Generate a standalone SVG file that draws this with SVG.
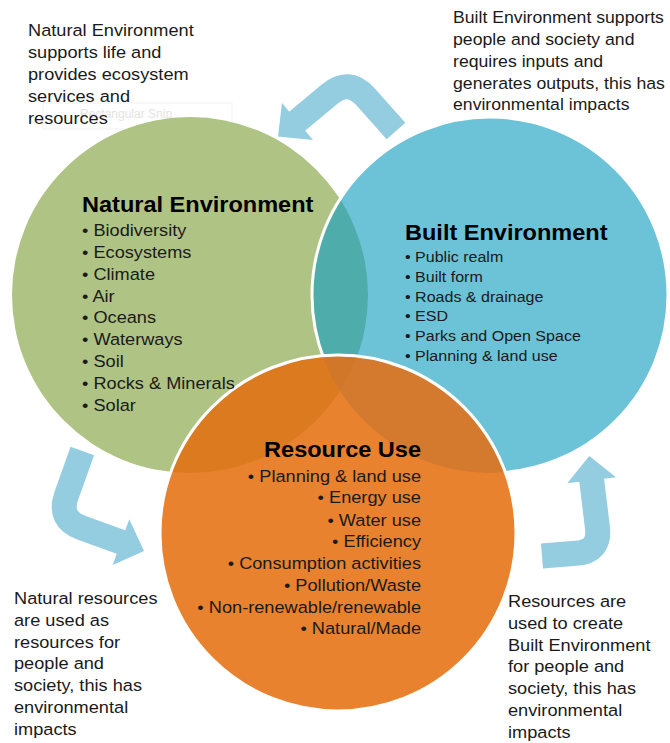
<svg xmlns="http://www.w3.org/2000/svg" width="670" height="743" viewBox="0 0 670 743">
<defs>
<style>
text{font-family:"Liberation Sans",Arial,sans-serif;fill:#1a1a1a}
.t{font-size:17px}
.tr{font-size:16.5px}
.b{font-size:22px;font-weight:bold;fill:#000}
.s{font-size:15px}
.arrow{fill:none;stroke:#93cddf;stroke-width:25;stroke-linejoin:round}
.head{fill:#93cddf}
</style>
<clipPath id="cg"><circle cx="190" cy="295" r="178"/></clipPath>
<clipPath id="cb"><circle cx="490" cy="295" r="178"/></clipPath>
</defs>
<rect width="670" height="743" fill="#fff"/>
<g id="snip-ghost">
<rect x="43" y="103" width="189" height="26" fill="#fff" stroke="#f1f1f1"/>
<text x="80" y="118" style="font-size:12px;fill:#e3e3e3">Rectangular Snip</text>
</g>
<g id="natural-environment">
<circle cx="190" cy="295" r="178" fill="#afc384"/>
</g>
<g id="built-environment">
<circle cx="490" cy="295" r="178" fill="#6cc3d7"/>
<g clip-path="url(#cg)"><circle cx="490" cy="295" r="178" fill="#4eacaa"/></g>
<circle cx="490" cy="295" r="178" fill="none" stroke="#fff" stroke-width="3"/>
</g>
<g id="resource-use">
<circle cx="338" cy="533" r="178" fill="#e8822f"/>
<g clip-path="url(#cg)"><circle cx="338" cy="533" r="178" fill="#dc7a1f"/></g>
<g clip-path="url(#cb)"><circle cx="338" cy="533" r="178" fill="#d47a2e"/>
<g clip-path="url(#cg)"><circle cx="338" cy="533" r="178" fill="#d0772a"/></g></g>
<circle cx="338" cy="533" r="178" fill="none" stroke="#fff" stroke-width="3"/>
</g>
<g id="connectors">
<path class="arrow" d="M396,131 L365.5,96.8 Q349,78 329.8,94 L295,123"/>
<polygon class="head" points="282,103 313,140 278,136.5"/>
<path class="arrow" d="M82.3,451 L66.4,495.6 Q58,519.2 81.5,527.7 L123,542.7"/>
<polygon class="head" points="129.3,519.3 112.7,565 144,551"/>
<path class="arrow" d="M542,556 L575.5,553.3 Q600.5,552 597.4,527.2 L591.4,478"/>
<polygon class="head" points="567.3,483.3 616,477.3 589.3,456"/>
</g>
<g id="label-natural" transform="translate(28,0) scale(1.07,1)">
<text class="t" x="0" y="36">Natural Environment</text>
<text class="t" x="0" y="58">supports life and</text>
<text class="t" x="0" y="80">provides ecosystem</text>
<text class="t" x="0" y="102">services and</text>
<text class="t" x="0" y="124">resources</text>
</g>
<g id="label-built" transform="translate(453,0) scale(1.07,1)">
<text class="tr" x="0" y="23">Built Environment supports</text>
<text class="tr" x="0" y="45">people and society and</text>
<text class="tr" x="0" y="67">requires inputs and</text>
<text class="tr" x="0" y="89">generates outputs, this has</text>
<text class="tr" x="0" y="110">environmental impacts</text>
</g>
<g id="label-natural-resources" transform="translate(14,0) scale(1.07,1)">
<text class="t" x="0" y="604">Natural resources</text>
<text class="t" x="0" y="626">are used as</text>
<text class="t" x="0" y="648">resources for</text>
<text class="t" x="0" y="669">people and</text>
<text class="t" x="0" y="691">society, this has</text>
<text class="t" x="0" y="713">environmental</text>
<text class="t" x="0" y="735">impacts</text>
</g>
<g id="label-resources" transform="translate(508,0) scale(1.07,1)">
<text class="t" x="0" y="607">Resources are</text>
<text class="t" x="0" y="629">used to create</text>
<text class="t" x="0" y="651">Built Environment</text>
<text class="t" x="0" y="672">for people and</text>
<text class="t" x="0" y="694">society, this has</text>
<text class="t" x="0" y="716">environmental</text>
<text class="t" x="0" y="738">impacts</text>
</g>
<g id="natural-text" transform="translate(82,0) scale(1.07,1)">
<text class="b" x="0" y="212">Natural Environment</text>
<text class="t" x="0" y="236">• Biodiversity</text>
<text class="t" x="0" y="258">• Ecosystems</text>
<text class="t" x="0" y="280">• Climate</text>
<text class="t" x="0" y="302">• Air</text>
<text class="t" x="0" y="323">• Oceans</text>
<text class="t" x="0" y="345">• Waterways</text>
<text class="t" x="0" y="367">• Soil</text>
<text class="t" x="0" y="389">• Rocks &amp; Minerals</text>
<text class="t" x="0" y="411">• Solar</text>
</g>
<g id="built-text" transform="translate(405,0) scale(1.07,1)">
<text class="b" x="0" y="240">Built Environment</text>
<text class="s" x="0" y="262">• Public realm</text>
<text class="s" x="0" y="282">• Built form</text>
<text class="s" x="0" y="302">• Roads &amp; drainage</text>
<text class="s" x="0" y="321">• ESD</text>
<text class="s" x="0" y="341">• Parks and Open Space</text>
<text class="s" x="0" y="361">• Planning &amp; land use</text>
</g>
<g id="resource-text" transform="translate(421,0) scale(1.07,1)" text-anchor="end">
<text class="b" x="0" y="457">Resource Use</text>
<text class="t" x="0" y="482">• Planning &amp; land use</text>
<text class="t" x="0" y="503">• Energy use</text>
<text class="t" x="0" y="526">• Water use</text>
<text class="t" x="0" y="547">• Efficiency</text>
<text class="t" x="0" y="569">• Consumption activities</text>
<text class="t" x="0" y="591">• Pollution/Waste</text>
<text class="t" x="0" y="613">• Non-renewable/renewable</text>
<text class="t" x="0" y="634">• Natural/Made</text>
</g>
</svg>
